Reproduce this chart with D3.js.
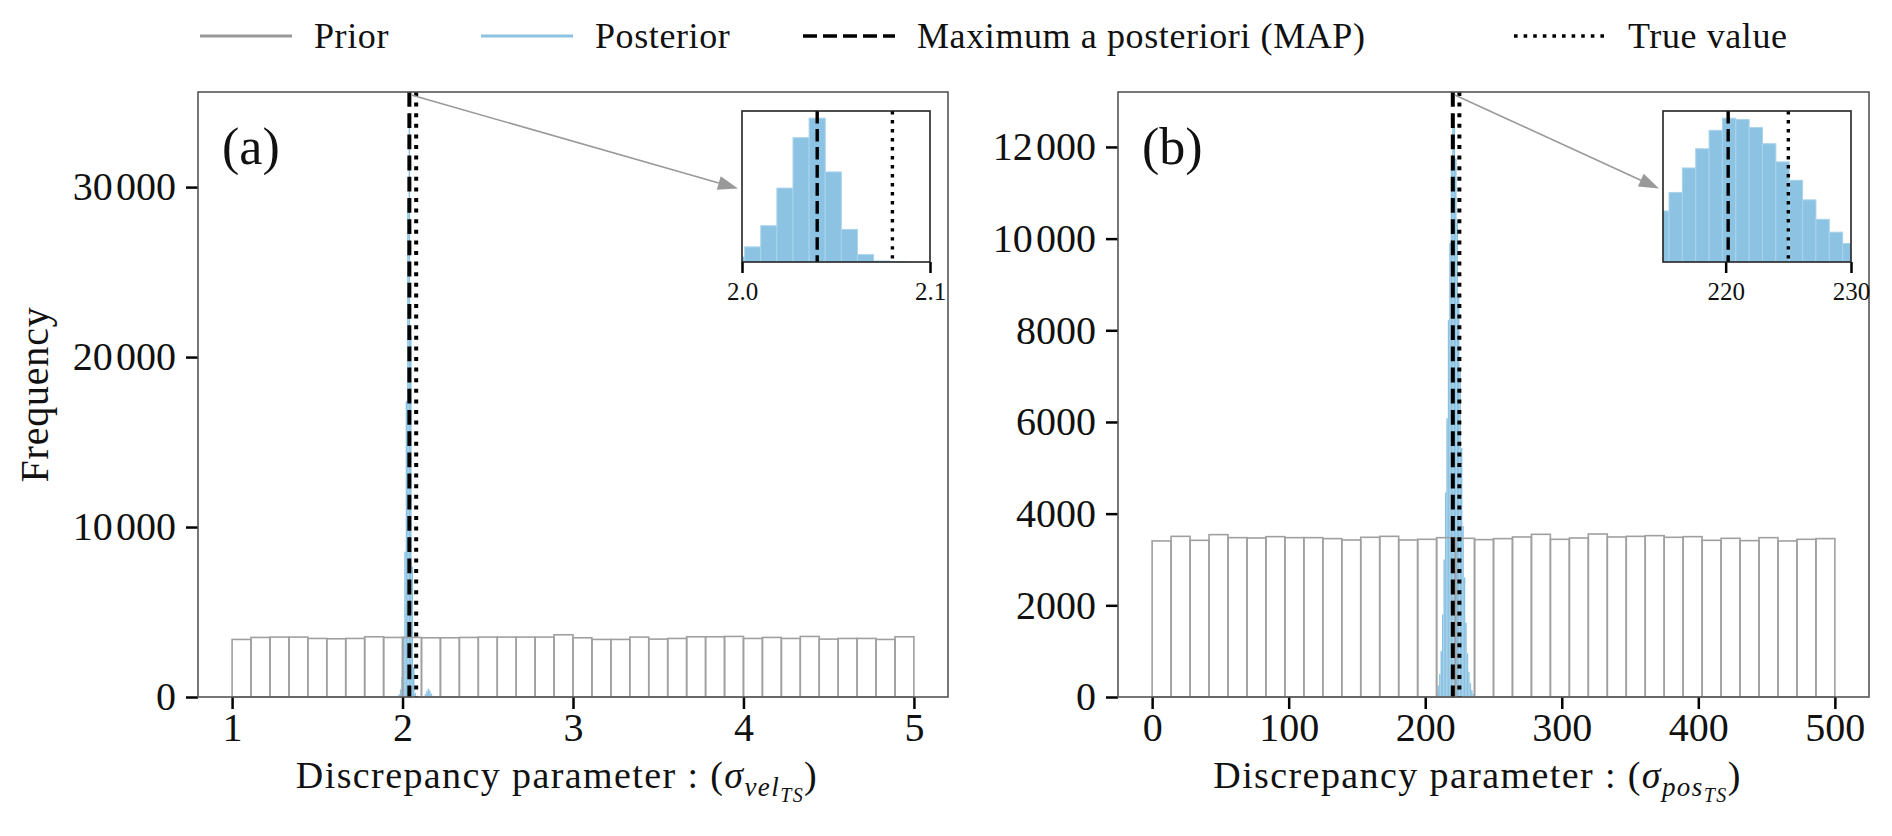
<!DOCTYPE html>
<html>
<head>
<meta charset="utf-8">
<script src="https://cdn.jsdelivr.net/npm/d3@7"></script>
<style>
  body { margin: 0; background: #fff; }
  svg text { font-family: "Liberation Serif", "DejaVu Serif", serif; fill: #111; }
</style>
</head>
<body>
<svg id="chart" width="1892" height="836"></svg>
<script>
// ---- data ----
const legendLabels = ['Prior', 'Posterior', 'Maximum a posteriori (MAP)', 'True value']

// prior histograms, 36 equal bins
const priorRangeA = [1, 5]
const priorCountsA = [3386, 3504, 3524, 3524, 3445, 3425, 3445, 3543, 3504, 3504, 3484, 3484,
  3504, 3524, 3524, 3524, 3524, 3661, 3484, 3386, 3386, 3524, 3406, 3445,
  3543, 3543, 3563, 3445, 3504, 3445, 3563, 3406, 3445, 3445, 3386, 3543]
const priorRangeB = [0, 500]
const priorCountsB = [3404, 3505, 3418, 3542, 3476, 3469, 3498, 3476, 3476, 3455, 3425, 3484,
  3505, 3425, 3440, 3476, 3462, 3433, 3455, 3491, 3549, 3440, 3469, 3556,
  3491, 3505, 3520, 3484, 3498, 3418, 3462, 3411, 3476, 3404, 3440, 3455]

// posterior histograms: first bin edge, bin width, counts
const postStartA = 1.97571
const postWidthA = 0.00857
const postCountsA = [150, 450, 1190, 3560, 8550, 17420, 29300, 33900, 21230, 7680, 1740, 240,
  40, 0, 0, 0, 0, 60, 180, 350, 490, 380, 200, 70]
const postStartB = 208.02
const postWidthB = 1.0657
const postCountsB = [100, 250, 500, 1000, 1800, 3000, 4460, 6080, 8220, 9900, 11510, 12570,
  12450, 11750, 10340, 8750, 7140, 5430, 3730, 2610, 1620, 950, 550, 300, 150, 70, 30]

const mapA = 2.04
const trueA = 2.08
const mapB = 220.2
const trueB = 225

const xTicksA = [1, 2, 3, 4, 5]
const yTicksA = [0, 10000, 20000, 30000]
const xTicksB = [0, 100, 200, 300, 400, 500]
const yTicksB = [0, 2000, 4000, 6000, 8000, 10000, 12000]
const insetRangeA = [2.0, 2.1]
const insetTicksA = [2.0, 2.1]
const insetRangeB = [215, 230]
const insetTicksB = [220, 230]

// ---- styles ----
const BLUE = '#8cc3e3'
const BLUE_EDGE = '#a9d3ec'
const GRAY = '#a0a0a0'
const SPINE = '#555'
const FONT = '"Liberation Serif", serif'

const svg = d3.select('#chart')

function bins (start, width, counts) {
  return counts.map(function (c, i) { return { x0: start + i * width, x1: start + (i + 1) * width, c: c } })
}

function fmtBig (v) {
  var s = String(v)
  if (v >= 10000) return s.slice(0, s.length - 3) + '\u200A' + s.slice(-3)
  return s
}

function vlines (g, xs, y0, y1, map, truth, lw) {
  g.append('line')
    .attr('x1', xs(map)).attr('x2', xs(map)).attr('y1', y0).attr('y2', y1)
    .attr('stroke', '#000').attr('stroke-width', lw)
    .attr('stroke-dasharray', (3.7 * lw) + ',' + (1.6 * lw))
  g.append('line')
    .attr('x1', xs(truth)).attr('x2', xs(truth)).attr('y1', y0).attr('y2', y1)
    .attr('stroke', '#000').attr('stroke-width', lw)
    .attr('stroke-dasharray', lw + ',' + (1.65 * lw))
}

function drawPanel (p, idx) {
  var g = svg.append('g')
  var pad = (p.priorRange[1] - p.priorRange[0]) * 0.05
  var xs = d3.scaleLinear().domain([p.priorRange[0] - pad, p.priorRange[1] + pad]).range([p.left, p.right])
  var post = bins(p.postStart, p.postWidth, p.postCounts)
  var pw = (p.priorRange[1] - p.priorRange[0]) / p.priorCounts.length
  var prior = bins(p.priorRange[0], pw, p.priorCounts)
  var ymax = 1.05 * d3.max(post.concat(prior), function (d) { return d.c })
  var ys = d3.scaleLinear().domain([0, ymax]).range([p.bottom, p.top])

  g.append('g').selectAll('rect').data(post).enter().append('rect')
    .attr('x', function (d) { return xs(d.x0) })
    .attr('width', function (d) { return xs(d.x1) - xs(d.x0) })
    .attr('y', function (d) { return ys(d.c) })
    .attr('height', function (d) { return ys(0) - ys(d.c) })
    .attr('fill', BLUE)

  g.append('g').selectAll('rect').data(prior).enter().append('rect')
    .attr('x', function (d) { return xs(d.x0) })
    .attr('width', function (d) { return xs(d.x1) - xs(d.x0) })
    .attr('y', function (d) { return ys(d.c) })
    .attr('height', function (d) { return ys(0) - ys(d.c) })
    .attr('fill', 'none').attr('stroke', GRAY).attr('stroke-width', 1.6)

  vlines(g, xs, p.top, p.bottom, p.map, p.truth, 4)

  // axes
  var xa = g.append('g').attr('transform', 'translate(0,' + p.bottom + ')')
    .call(d3.axisBottom(xs).tickValues(p.xTicks).tickSizeOuter(0).tickSize(12).tickPadding(4).tickFormat(d3.format('d')))
  var ya = g.append('g').attr('transform', 'translate(' + p.left + ',0)')
    .call(d3.axisLeft(ys).tickValues(p.yTicks).tickSizeOuter(0).tickSize(12).tickPadding(10).tickFormat(fmtBig))
  ;[xa, ya].forEach(function (a) {
    a.select('.domain').remove()
    a.selectAll('.tick line').attr('stroke', '#000').attr('stroke-width', 2.5)
    a.selectAll('.tick text').attr('font-size', 40).attr('font-family', FONT).attr('fill', '#111')
  })

  g.append('rect')
    .attr('x', p.left).attr('y', p.top)
    .attr('width', p.right - p.left).attr('height', p.bottom - p.top)
    .attr('fill', 'none').attr('stroke', SPINE).attr('stroke-width', 1.6)

  g.append('text').attr('x', p.left + 24).attr('y', p.top + 72)
    .attr('font-size', 52).text(p.tag)

  // x label with nested subscript
  var xl = g.append('text').attr('x', (p.left + p.right) / 2 - 16).attr('y', 788)
    .attr('text-anchor', 'middle').attr('font-size', 38).attr('letter-spacing', 1.4)
  xl.append('tspan').text('Discrepancy parameter : (')
  xl.append('tspan').attr('font-style', 'italic').text('\u03C3')
  xl.append('tspan').attr('font-style', 'italic').attr('font-size', 27).attr('dy', 8).text(p.sub)
  xl.append('tspan').attr('font-style', 'italic').attr('font-size', 20).attr('dy', 6).text('TS')
  xl.append('tspan').attr('dy', -14).text(')')

  // arrow from top of MAP line to inset
  var ins = p.inset
  var ax0 = xs(p.map) + 2
  var ay0 = p.top + 3
  var tx = ins.left - 4
  var ty = (ins.top + ins.bottom) / 2 + 2
  var ang = Math.atan2(ty - ay0, tx - ax0)
  var hl = 20
  var hw = 7
  var bx = tx - hl * Math.cos(ang)
  var by = ty - hl * Math.sin(ang)
  g.append('line').attr('x1', ax0).attr('y1', ay0).attr('x2', bx).attr('y2', by)
    .attr('stroke', '#999').attr('stroke-width', 1.6)
  g.append('path')
    .attr('d', 'M' + tx + ',' + ty +
      'L' + (bx + hw * Math.sin(ang)) + ',' + (by - hw * Math.cos(ang)) +
      'L' + (bx - hw * Math.sin(ang)) + ',' + (by + hw * Math.cos(ang)) + 'Z')
    .attr('fill', '#999')

  // inset
  var ig = svg.append('g')
  var ixs = d3.scaleLinear().domain(ins.range).range([ins.left, ins.right])
  var iys = d3.scaleLinear().domain([0, 1.05 * d3.max(post, function (d) { return d.c })]).range([ins.bottom, ins.top])
  var cid = 'clip' + idx
  ig.append('clipPath').attr('id', cid).append('rect')
    .attr('x', ins.left).attr('y', ins.top).attr('width', ins.right - ins.left).attr('height', ins.bottom - ins.top)
  ig.append('rect').attr('x', ins.left).attr('y', ins.top)
    .attr('width', ins.right - ins.left).attr('height', ins.bottom - ins.top).attr('fill', '#fff')
  var ic = ig.append('g').attr('clip-path', 'url(#' + cid + ')')
  ic.selectAll('rect').data(post).enter().append('rect')
    .attr('x', function (d) { return ixs(d.x0) })
    .attr('width', function (d) { return ixs(d.x1) - ixs(d.x0) })
    .attr('y', function (d) { return iys(d.c) })
    .attr('height', function (d) { return iys(0) - iys(d.c) })
    .attr('fill', BLUE).attr('stroke', BLUE_EDGE).attr('stroke-width', 1)
  vlines(ic, ixs, ins.top, ins.bottom, p.map, p.truth, 3.4)
  var ia = ig.append('g').attr('transform', 'translate(0,' + ins.bottom + ')')
    .call(d3.axisBottom(ixs).tickValues(ins.ticks).tickSizeOuter(0).tickSize(11).tickPadding(9).tickFormat(ins.fmt))
  ia.select('.domain').remove()
  ia.selectAll('.tick line').attr('stroke', '#000').attr('stroke-width', 2.5)
  ia.selectAll('.tick text').attr('font-size', 25).attr('font-family', FONT).attr('fill', '#111')
  ig.append('rect').attr('x', ins.left).attr('y', ins.top)
    .attr('width', ins.right - ins.left).attr('height', ins.bottom - ins.top)
    .attr('fill', 'none').attr('stroke', '#222').attr('stroke-width', 1.6)
}

var panels = [
  { left: 198, right: 948, top: 92, bottom: 697, priorRange: priorRangeA, priorCounts: priorCountsA,
    postStart: postStartA, postWidth: postWidthA, postCounts: postCountsA, map: mapA, truth: trueA,
    xTicks: xTicksA, yTicks: yTicksA, tag: '(a)', sub: 'vel',
    inset: { left: 742, right: 930, top: 111, bottom: 262, range: insetRangeA, ticks: insetTicksA, fmt: d3.format('.1f') } },
  { left: 1118, right: 1869, top: 92, bottom: 697, priorRange: priorRangeB, priorCounts: priorCountsB,
    postStart: postStartB, postWidth: postWidthB, postCounts: postCountsB, map: mapB, truth: trueB,
    xTicks: xTicksB, yTicks: yTicksB, tag: '(b)', sub: 'pos',
    inset: { left: 1663, right: 1851, top: 111, bottom: 262, range: insetRangeB, ticks: insetTicksB, fmt: d3.format('d') } }
]
panels.forEach(drawPanel)

svg.append('text')
  .attr('transform', 'translate(34,' + (92 + 697) / 2 + ') rotate(-90)')
  .attr('text-anchor', 'middle').attr('dominant-baseline', 'central')
  .attr('font-size', 40).attr('letter-spacing', 0.8).text('Frequency')

// legend
var legendX = [200, 481, 803, 1514]
var legendStyles = [
  { stroke: '#999', dash: null, w: 3 },
  { stroke: BLUE, dash: null, w: 3 },
  { stroke: '#000', dash: '14,6', w: 3.6 },
  { stroke: '#000', dash: '3.6,6', w: 3.6 }
]
var lg = svg.append('g')
legendLabels.forEach(function (name, i) {
  var s = legendStyles[i]
  lg.append('line').attr('x1', legendX[i]).attr('x2', legendX[i] + 92).attr('y1', 36).attr('y2', 36)
    .attr('stroke', s.stroke).attr('stroke-width', s.w).attr('stroke-dasharray', s.dash)
  lg.append('text').attr('x', legendX[i] + 114).attr('y', 48).attr('font-size', 36)
    .attr('letter-spacing', 0.6).text(name)
})
</script>
</body>
</html>
